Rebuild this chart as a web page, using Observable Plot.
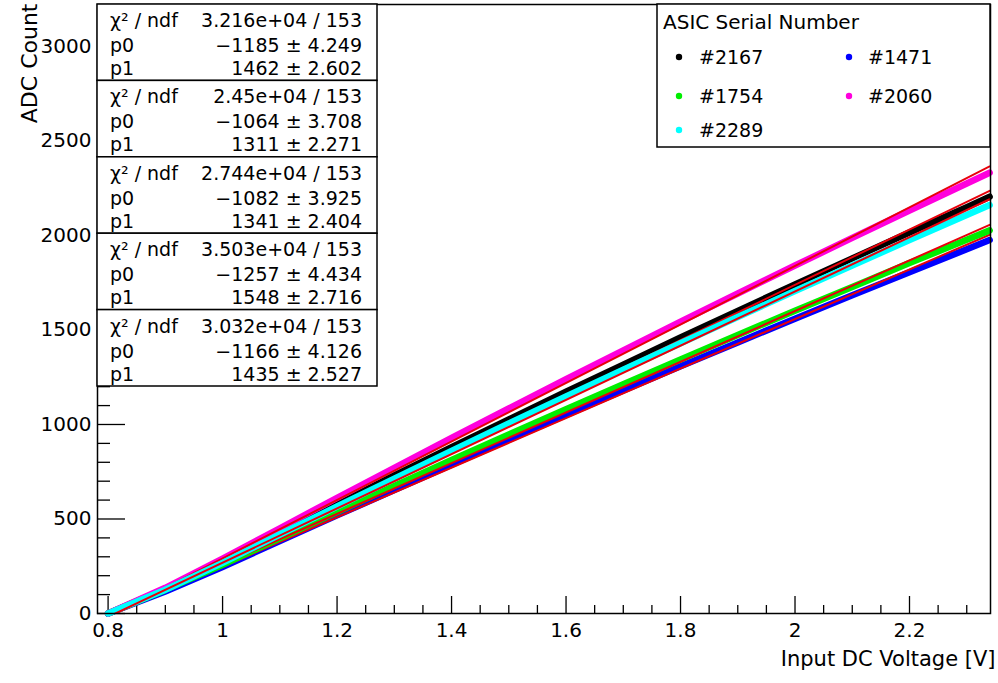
<!DOCTYPE html>
<html><head><meta charset="utf-8">
<script src="https://cdn.jsdelivr.net/npm/d3@7"></script>
<script src="https://cdn.jsdelivr.net/npm/@observablehq/plot@0.6"></script>
<style>
html,body{margin:0;padding:0;background:#fff;}
#chart{position:relative;width:998px;height:683px;}
</style></head><body><div id="chart"></div>
<script>
// ---- data ----
const serials = ["#2167", "#1471", "#1754", "#2060", "#2289"];
const colors = ["#000000", "#0000ff", "#00ee00", "#ff00dd", "#00ffff"];
const voltage = [0.8, 0.9, 1.0, 1.1, 1.2, 1.3, 1.4, 1.5, 1.6, 1.7, 1.8, 1.9, 2.0, 2.1, 2.2, 2.3, 2.34];
const adc2167 = [0, 131, 276, 428, 580, 730, 880, 1027, 1173, 1317, 1460, 1601, 1741, 1879, 2016, 2150, 2205];
const adc1471 = [0, 116, 246, 383, 519, 653, 787, 919, 1050, 1180, 1308, 1434, 1560, 1684, 1806, 1927, 1976];
const adc1754 = [0, 125, 258, 398, 537, 675, 812, 947, 1081, 1213, 1344, 1474, 1602, 1728, 1854, 1977, 2027];
const adc2060 = [0, 136, 290, 451, 612, 771, 929, 1085, 1240, 1392, 1544, 1693, 1841, 1987, 2132, 2275, 2332];
const adc2289 = [0, 126, 268, 418, 566, 714, 860, 1005, 1148, 1290, 1430, 1569, 1706, 1841, 1976, 2108, 2161];
const adcSeries = [adc2167, adc1471, adc1754, adc2060, adc2289];

// fit results (pol1: p0 + p1*x)
const chi2 = ["3.216e+04", "2.45e+04", "2.744e+04", "3.503e+04", "3.032e+04"];
const ndf = [153, 153, 153, 153, 153];
const p0 = [-1185, -1064, -1082, -1257, -1166];
const p0err = ["4.249", "3.708", "3.925", "4.434", "4.126"];
const p1 = [1462, 1311, 1341, 1548, 1435];
const p1err = ["2.602", "2.271", "2.404", "2.716", "2.527"];
const fitRange = [0.8, 2.34];

// axes
const xDomain = [0.7815, 2.3415];
const yDomain = [0, 3222];
const xTicks = [0.8, 1, 1.2, 1.4, 1.6, 1.8, 2, 2.2];
const xMinor = [0.85, 0.9, 0.95, 1.05, 1.1, 1.15, 1.25, 1.3, 1.35, 1.45, 1.5, 1.55, 1.65, 1.7, 1.75, 1.85, 1.9, 1.95, 2.05, 2.1, 2.15, 2.25, 2.3];
const yTicks = [0, 500, 1000, 1500, 2000, 2500, 3000];
const yMinor = [100, 200, 300, 400, 600, 700, 800, 900, 1100, 1200, 1300, 1400, 1600, 1700, 1800, 1900, 2100, 2200, 2300, 2400, 2600, 2700, 2800, 2900, 3100, 3200];
const xTitle = "Input DC Voltage [V]";
const yTitle = "ADC Count";
const legendTitle = "ASIC Serial Number";

// ---- layout ----
const W = 998, H = 683, mL = 97, mR = 8, mT = 4, mB = 70;
const frameW = W - mL - mR, frameH = H - mT - mB;
const font = "DejaVu Sans";

const seriesMarks = [];
adcSeries.forEach((vals, i) => {
  const pts = voltage.map((v, j) => ({x: v, y: vals[j]}));
  seriesMarks.push(Plot.line(pts, {x: "x", y: "y", stroke: colors[i], strokeWidth: 6.5, strokeLinecap: "round", strokeLinejoin: "round"}));
  const fit = fitRange.map(v => ({x: v, y: p0[i] + p1[i] * v}));
  seriesMarks.push(Plot.line(fit, {x: "x", y: "y", stroke: "#e8000a", strokeWidth: 2, clip: true}));
});

const chart = Plot.plot({
  width: W, height: H,
  marginLeft: mL, marginRight: mR, marginTop: mT, marginBottom: mB,
  style: {fontFamily: font, fontSize: "20px", color: "black", background: "white"},
  x: {domain: xDomain},
  y: {domain: yDomain},
  marks: [
    Plot.axisX({ticks: xTicks, tickSize: 0, tickPadding: 9, tickFormat: d => String(d), label: null, fontSize: 20}),
    Plot.axisY({ticks: yTicks, tickSize: 0, tickPadding: 6, tickFormat: d => String(d), label: null, fontSize: 20}),
    Plot.tickX(xTicks, {x: d => d, insetTop: frameH - 17, stroke: "black", strokeWidth: 1.3}),
    Plot.tickX(xMinor, {x: d => d, insetTop: frameH - 8, stroke: "black", strokeWidth: 1.3}),
    Plot.tickY(yTicks, {y: d => d, insetRight: frameW - 28, stroke: "black", strokeWidth: 1.3}),
    Plot.tickY(yMinor, {y: d => d, insetRight: frameW - 13, stroke: "black", strokeWidth: 1.3}),
    ...seriesMarks,
    Plot.frame({stroke: "black", strokeWidth: 1.5}),
    Plot.text([yTitle], {frameAnchor: "top-left", rotate: -90, textAnchor: "end", dx: -76, dy: -1, fontSize: 22}),
    Plot.text([xTitle], {frameAnchor: "bottom-right", textAnchor: "end", dx: 5, dy: 52, fontSize: 21})
  ]
});
document.getElementById("chart").appendChild(chart);

// ---- stat boxes ----
const svg = d3.select(chart);
const fmtSigned = v => (v < 0 ? "\u2212" + Math.abs(v) : String(v));
const sg = svg.append("g").attr("font-family", font).attr("font-size", 19).attr("fill", "black").attr("text-anchor", "start");
const boxH = 76.4, boxW = 280;
p1.forEach((_, i) => {
  const t = mT + i * boxH;
  sg.append("rect").attr("x", mL).attr("y", t).attr("width", boxW).attr("height", boxH)
    .attr("fill", "white").attr("stroke", "black").attr("stroke-width", 1.5);
  const rows = [
    ["\u03C7\u00B2 / ndf", `${chi2[i]} / ${ndf[i]}`],
    ["p0", `${fmtSigned(p0[i])} \u00B1 ${p0err[i]}`],
    ["p1", `${fmtSigned(p1[i])} \u00B1 ${p1err[i]}`]
  ];
  const offs = [23, 48, 71];
  rows.forEach((r, k) => {
    sg.append("text").attr("x", mL + 13).attr("y", t + offs[k]).attr("text-anchor", "start").text(r[0]);
    sg.append("text").attr("x", mL + 265).attr("y", t + offs[k]).attr("text-anchor", "end").text(r[1]);
  });
});

// ---- legend ----
const lg = svg.append("g").attr("font-family", font).attr("fill", "black").attr("text-anchor", "start");
lg.append("rect").attr("x", 657).attr("y", mT).attr("width", W - mR - 657).attr("height", 143)
  .attr("fill", "white").attr("stroke", "black").attr("stroke-width", 1.5);
lg.append("text").attr("x", 663).attr("y", 29).attr("font-size", 20).attr("text-anchor", "start").text(legendTitle);
const colDot = [679, 849], colText = [699, 868], rowY = [57, 96, 130];
serials.forEach((s, i) => {
  const r = Math.floor(i / 2), c = i % 2;
  lg.append("circle").attr("cx", colDot[c]).attr("cy", rowY[r]).attr("r", 3.2).attr("fill", colors[i]);
  lg.append("text").attr("x", colText[c]).attr("y", rowY[r] + 7).attr("font-size", 19).attr("text-anchor", "start").text(s);
});
</script></body></html>
